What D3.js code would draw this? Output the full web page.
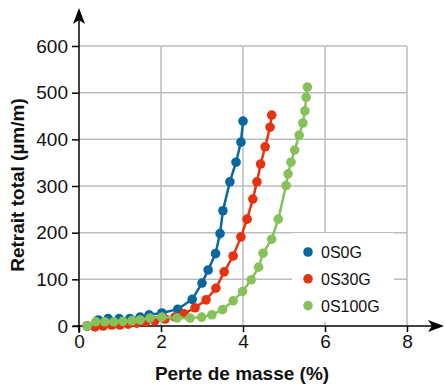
<!DOCTYPE html>
<html>
<head>
<meta charset="utf-8">
<script src="https://cdn.jsdelivr.net/npm/d3@7"></script>
<style>
  body { margin: 0; background: #fff; }
  text { font-family: "Liberation Sans", Arial, sans-serif; }
</style>
</head>
<body>
<script>
var w = 445;
var h = 386;

var seriesNames = ["0S0G", "0S30G", "0S100G"];
var colors = ["#07679e", "#e6330f", "#86c15a"];

var x0S0G = [0.2, 0.47, 0.71, 0.98, 1.24, 1.49, 1.71, 2.02, 2.41, 2.76, 3.0, 3.15, 3.33, 3.44, 3.51, 3.68, 3.83, 3.95, 4.0];
var y0S0G = [0, 13, 16, 16, 16, 19, 24, 28, 36, 57, 92, 120, 155, 198, 247, 309, 351, 394, 439];

var x0S30G = [0.2, 0.39, 0.59, 0.8, 1.0, 1.2, 1.41, 1.63, 1.85, 2.1, 2.34, 2.56, 2.83, 3.1, 3.34, 3.54, 3.76, 3.95, 4.1, 4.24, 4.34, 4.43, 4.54, 4.66, 4.7];
var y0S30G = [0, -2, 0, 2, 2, 4, 6, 9, 11, 15, 19, 26, 39, 56, 81, 116, 150, 191, 229, 272, 309, 347, 384, 426, 452];

var x0S100G = [0.2, 0.41, 0.63, 0.85, 1.07, 1.29, 1.49, 1.73, 2.02, 2.39, 2.71, 2.99, 3.24, 3.5, 3.76, 3.99, 4.2, 4.38, 4.49, 4.7, 4.86, 5.05, 5.1, 5.17, 5.26, 5.37, 5.46, 5.51, 5.54, 5.57];
var y0S100G = [0, 9, 9, 9, 10, 11, 13, 17, 19, 17, 17, 19, 24, 35, 54, 74, 99, 126, 156, 186, 229, 301, 326, 351, 377, 409, 435, 461, 490, 512];

var xTicks = [0, 2, 4, 6, 8];
var yTicks = [0, 100, 200, 300, 400, 500, 600];

var series = [
  {name: seriesNames[0], xs: x0S0G, ys: y0S0G},
  {name: seriesNames[1], xs: x0S30G, ys: y0S30G},
  {name: seriesNames[2], xs: x0S100G, ys: y0S100G}
];

var x = d3.scaleLinear().domain([0, 8]).range([79, 407]);
var y = d3.scaleLinear().domain([0, 600]).range([326, 46]);

var svg = d3.select("body")
            .append("svg")
              .attr("width", w)
              .attr("height", h);

// grid
svg.append("g").selectAll("line")
   .data(yTicks.slice(1))
   .enter()
   .append("line")
     .attr("x1", x(0)).attr("x2", x(8))
     .attr("y1", function(d) { return y(d); })
     .attr("y2", function(d) { return y(d); })
     .attr("stroke", "#bdbdbd").attr("stroke-width", 1.5);

svg.append("g").selectAll("line")
   .data(xTicks.slice(1))
   .enter()
   .append("line")
     .attr("x1", function(d) { return x(d); })
     .attr("x2", function(d) { return x(d); })
     .attr("y1", y(0)).attr("y2", y(600))
     .attr("stroke", "#bdbdbd").attr("stroke-width", 1.5);

// legend box hides grid
svg.append("rect")
   .attr("x", 292).attr("y", 233)
   .attr("width", 102).attr("height", 89)
   .attr("fill", "#fff");

// axes
var xAxis = d3.axisBottom(x).tickValues(xTicks).tickSize(6).tickPadding(3);
var yAxis = d3.axisLeft(y).tickValues(yTicks).tickSize(7).tickPadding(4);

var gx = svg.append("g").attr("transform", "translate(0," + y(0) + ")").call(xAxis);
var gy = svg.append("g").attr("transform", "translate(" + x(0) + ",0)").call(yAxis);
[gx, gy].forEach(function(g) {
  g.select(".domain").remove();
  g.selectAll("line").attr("stroke", "#000").attr("stroke-width", 1.5);
  g.selectAll("text")
   .attr("font-size", "19px")
   .attr("font-family", "Liberation Sans, Arial, sans-serif")
   .attr("fill", "#111");
});

svg.append("line")
   .attr("x1", 73).attr("x2", 432)
   .attr("y1", y(0)).attr("y2", y(0))
   .attr("stroke", "#000").attr("stroke-width", 1.5);
svg.append("line")
   .attr("x1", x(0)).attr("x2", x(0))
   .attr("y1", 333).attr("y2", 20)
   .attr("stroke", "#000").attr("stroke-width", 1.5);
svg.append("path")
   .attr("d", "M444," + y(0) + " L428," + (y(0) - 6) + " L432," + y(0) + " L428," + (y(0) + 6) + "Z")
   .attr("fill", "#000");
svg.append("path")
   .attr("d", "M" + x(0) + ",8 L" + (x(0) - 6) + ",24 L" + x(0) + ",20 L" + (x(0) + 6) + ",24Z")
   .attr("fill", "#000");

// axis titles
svg.append("text")
   .text("Perte de masse (%)")
   .attr("x", 242).attr("y", 380)
   .attr("text-anchor", "middle")
   .attr("font-size", "19px").attr("font-weight", "bold")
   .attr("fill", "#111");
svg.append("text")
   .text("Retrait total (\u00b5m/m)")
   .attr("transform", "translate(24,185) rotate(-90)")
   .attr("text-anchor", "middle")
   .attr("font-size", "19px").attr("font-weight", "bold")
   .attr("fill", "#111");

// series
var line = d3.line()
  .x(function(d) { return x(d[0]); })
  .y(function(d) { return y(d[1]); });

series.forEach(function(s, i) {
  var pts = s.xs.map(function(v, j) { return [v, s.ys[j]]; });
  var g = svg.append("g");
  g.append("path")
   .datum(pts)
   .attr("d", line)
   .attr("fill", "none")
   .attr("stroke", colors[i])
   .attr("stroke-width", 2.5);
  g.selectAll("circle")
   .data(pts)
   .enter()
   .append("circle")
     .attr("cx", function(d) { return x(d[0]); })
     .attr("cy", function(d) { return y(d[1]); })
     .attr("r", 4.8)
     .attr("fill", colors[i]);
});

// legend
var legend = svg.append("g").selectAll("g")
  .data(seriesNames)
  .enter()
  .append("g")
    .attr("transform", function(d, i) { return "translate(308," + (252 + i * 26.8) + ")"; });
legend.append("circle")
  .attr("r", 4.8)
  .attr("fill", function(d, i) { return colors[i]; });
legend.append("text")
  .text(function(d) { return d; })
  .attr("x", 13).attr("y", 6)
  .attr("font-size", "16px")
  .attr("fill", "#111");
</script>
</body>
</html>
